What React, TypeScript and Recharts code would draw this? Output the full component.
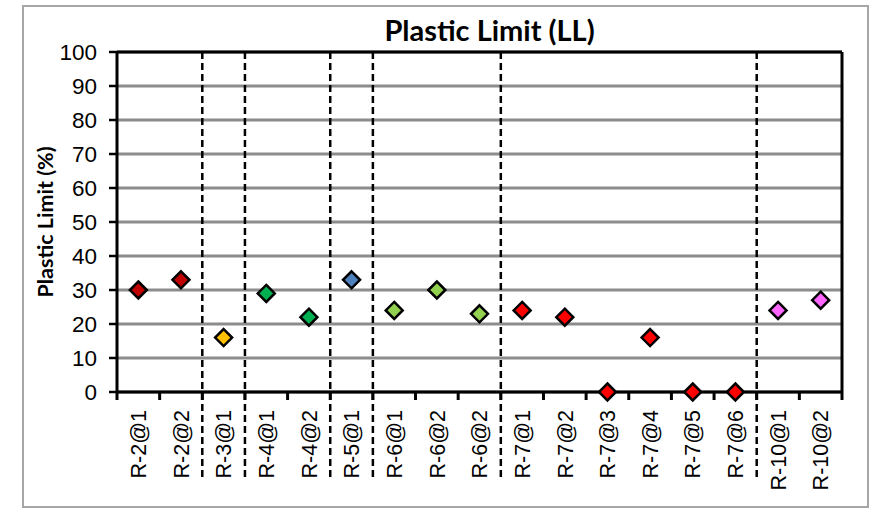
import { ScatterChart, Scatter, XAxis, YAxis, CartesianGrid, ReferenceLine } from 'recharts';

const samples = [
  'R-2@1', 'R-2@2', 'R-3@1', 'R-4@1', 'R-4@2', 'R-5@1', 'R-6@1', 'R-6@2', 'R-6@2',
  'R-7@1', 'R-7@2', 'R-7@3', 'R-7@4', 'R-7@5', 'R-7@6', 'R-10@1', 'R-10@2',
];
const plasticLimit = [30, 33, 16, 29, 22, 33, 24, 30, 23, 24, 22, 0, 16, 0, 0, 24, 27];
const boreholeColors: Record<string, string> = {
  'R-2': '#C00000',
  'R-3': '#FFC000',
  'R-4': '#00B050',
  'R-5': '#4F81BD',
  'R-6': '#92D050',
  'R-7': '#FF0000',
  'R-10': '#FF66FF',
};
const yTicks = [0, 10, 20, 30, 40, 50, 60, 70, 80, 90, 100];

const points = samples.map((name, i) => ({
  name,
  pos: i + 0.5,
  value: plasticLimit[i],
  borehole: name.split('@')[0],
}));

// a dashed divider wherever the borehole changes
const dividers = points
  .slice(1)
  .filter((p, i) => p.borehole !== points[i].borehole)
  .map((p) => p.pos - 0.5);

// integer positions carry tick marks, half positions carry the sample names
const xTicks = Array.from({ length: samples.length * 2 + 1 }, (_, i) => i / 2);

const ARIAL = '"Liberation Sans", Arial, sans-serif';
const CALIBRI = 'Lato, "Open Sans", sans-serif';

const SampleTick = ({ x, y, payload }: any) => {
  const v = payload.value;
  if (Number.isInteger(v)) {
    return <line x1={x} y1={y} x2={x} y2={y + 8} stroke="#000" strokeWidth={3} />;
  }
  const ty = y + 18;
  return (
    <text
      x={x}
      y={ty}
      dy="0.36em"
      transform={`rotate(-90 ${x} ${ty})`}
      textAnchor="end"
      fontSize={21.5}
      fontFamily={ARIAL}
      fill="#000"
    >
      {samples[Math.floor(v)]}
    </text>
  );
};

const Diamond = ({ cx, cy, payload }: any) => {
  const r = 8.5;
  return (
    <polygon
      points={`${cx},${cy - r} ${cx + r},${cy} ${cx},${cy + r} ${cx - r},${cy}`}
      fill={boreholeColors[payload.borehole]}
      stroke="#000"
      strokeWidth={2.5}
    />
  );
};

// runs from the top of the plot down through the sample-name band
const Divider = ({ x1, y1, x2, y2 }: any) => (
  <line
    x1={x1}
    y1={Math.min(y1, y2)}
    x2={x2}
    y2={Math.max(y1, y2) + 88}
    stroke="#000"
    strokeWidth={2.5}
    strokeDasharray="7 4"
  />
);

export default function App() {
  return (
    <div style={{ position: 'absolute', left: 0, top: 0, width: 874, height: 509, background: '#fff' }}>
      <div
        style={{
          position: 'absolute',
          left: 22,
          top: 5,
          width: 847,
          height: 503,
          border: '2px solid #a6a6a6',
          boxSizing: 'border-box',
        }}
      />
      <ScatterChart width={874} height={509} margin={{ top: 52, right: 32, bottom: 27, left: 57 }}>
        <CartesianGrid horizontal vertical={false} stroke="#8c8c8c" strokeWidth={3} />
        <XAxis
          type="number"
          dataKey="pos"
          domain={[0, samples.length]}
          ticks={xTicks}
          interval={0}
          tickSize={0}
          tickMargin={0}
          tickLine={false}
          height={90}
          axisLine={{ stroke: '#000', strokeWidth: 3 }}
          tick={<SampleTick />}
        />
        <YAxis
          type="number"
          dataKey="value"
          domain={[0, 100]}
          ticks={yTicks}
          interval={0}
          width={60}
          tickSize={8}
          tickMargin={12}
          axisLine={{ stroke: '#000', strokeWidth: 3 }}
          tickLine={{ stroke: '#000', strokeWidth: 2.5 }}
          tick={{ fontSize: 22.5, fontFamily: ARIAL, fill: '#000' }}
        />
        <ReferenceLine y={100} stroke="#000" strokeWidth={3} ifOverflow="visible" />
        <ReferenceLine x={samples.length} stroke="#000" strokeWidth={3} ifOverflow="visible" />
        {dividers.map((d) => (
          <ReferenceLine key={d} x={d} ifOverflow="visible" shape={<Divider />} />
        ))}
        <Scatter data={points} shape={<Diamond />} isAnimationActive={false} />
      </ScatterChart>
      <svg
        width={874}
        height={509}
        style={{ position: 'absolute', left: 0, top: 0, pointerEvents: 'none' }}
      >
        <text x={489.5} y={41} textAnchor="middle" fontSize={29} fontWeight="bold" fontFamily={CALIBRI} fill="#000">
          Plastic Limit (LL)
        </text>
        <text
          x={45}
          y={222}
          transform="rotate(-90 45 222)"
          textAnchor="middle"
          dy="0.35em"
          fontSize={21.5}
          fontWeight="bold"
          fontFamily={CALIBRI}
          fill="#000"
        >
          Plastic Limit (%)
        </text>
      </svg>
    </div>
  );
}
